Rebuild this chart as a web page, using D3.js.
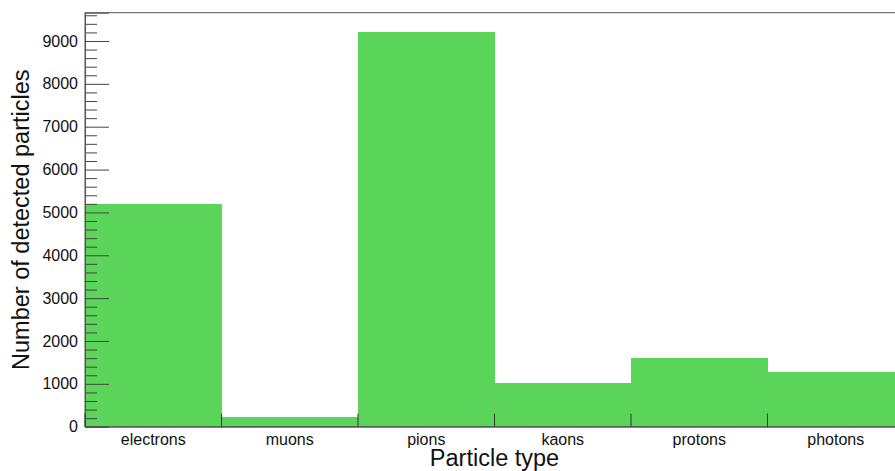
<!DOCTYPE html>
<html>
<head>
    <meta charset="utf-8">
    <title>Particle types</title>
    <style>
        body { margin: 0; background: #fff; }
        text { font-family: "Liberation Sans", Arial, sans-serif; fill: #111; }
    </style>
</head>
<body>
    <script src="https://cdnjs.cloudflare.com/ajax/libs/d3/7.9.0/d3.min.js"></script>
    <script>

        const particles = ["electrons", "muons", "pions", "kaons", "protons", "photons"];
        const counts = [5200, 230, 9200, 1010, 1600, 1275];
        const yMajorTicks = [0, 1000, 2000, 3000, 4000, 5000, 6000, 7000, 8000, 9000];

        const width = 895;
        const height = 471;
        // frame runs past the right edge of the canvas, like the original
        const frame = {left: 85, right: 904, top: 12.7, bottom: 426.7};

        const svg = d3.select("body")
            .append("svg")
            .attr("width", width)
            .attr("height", height);

        const x = d3.scaleBand()
            .domain(particles)
            .range([frame.left, frame.right])
            .padding(0);

        const yMax = d3.max(counts) * 1.05;
        const y = d3.scaleLinear()
            .domain([0, yMax])
            .range([frame.bottom, frame.top]);

        svg.selectAll(".bar")
            .data(particles)
            .enter()
            .append("rect")
            .attr("class", "bar")
            .attr("x", d => x(d))
            .attr("y", (d, i) => y(counts[i]))
            .attr("width", x.bandwidth())
            .attr("height", (d, i) => frame.bottom - y(counts[i]))
            .attr("fill", "#5ad55a")
            .attr("shape-rendering", "crispEdges");

        // frame
        svg.append("rect")
            .attr("x", frame.left)
            .attr("y", frame.top)
            .attr("width", frame.right - frame.left)
            .attr("height", frame.bottom - frame.top)
            .attr("fill", "none")
            .attr("stroke", "#555")
            .attr("stroke-width", 1);

        // y axis: minor ticks every 200, major every 1000
        const minorTicks = d3.range(0, yMax, 200).filter(v => v % 1000 !== 0);
        svg.append("g")
            .attr("transform", `translate(${frame.left},0)`)
            .call(d3.axisLeft(y).tickValues(minorTicks).tickSize(-12).tickFormat(""))
            .call(g => g.select(".domain").remove())
            .selectAll("line").attr("stroke", "#444");

        const yAxis = svg.append("g")
            .attr("transform", `translate(${frame.left},0)`)
            .call(d3.axisLeft(y).tickValues(yMajorTicks).tickSize(-24).tickPadding(7).tickFormat(d3.format("d")))
            .call(g => g.select(".domain").attr("stroke", "#555"));
        yAxis.selectAll("line").attr("stroke", "#444");
        yAxis.selectAll("text")
            .style("font-size", "16px")
            .attr("fill", "#111");

        // x axis: labels in bin centres, ticks at bin edges
        const xAxis = svg.append("g")
            .attr("transform", `translate(0,${frame.bottom})`)
            .call(d3.axisBottom(x).tickSize(0).tickPadding(7))
            .call(g => g.select(".domain").attr("stroke", "#555"));
        xAxis.selectAll("text")
            .style("font-size", "16px")
            .attr("fill", "#111");

        const edges = particles.map(d => x(d)).concat([x(particles[particles.length - 1]) + x.bandwidth()]);
        svg.selectAll(".xtick")
            .data(edges)
            .enter()
            .append("line")
            .attr("x1", d => d)
            .attr("x2", d => d)
            .attr("y1", frame.bottom)
            .attr("y2", frame.bottom - 13)
            .attr("stroke", "#333");

        // axis titles
        svg.append("text")
            .attr("x", (frame.left + frame.right) / 2)
            .attr("y", 466)
            .attr("text-anchor", "middle")
            .style("font-size", "23.5px")
            .text("Particle type");

        svg.append("text")
            .attr("transform", `translate(29,${(frame.top + frame.bottom) / 2}) rotate(-90)`)
            .attr("text-anchor", "middle")
            .style("font-size", "23.5px")
            .text("Number of detected particles");

    </script>
</body>
</html>
